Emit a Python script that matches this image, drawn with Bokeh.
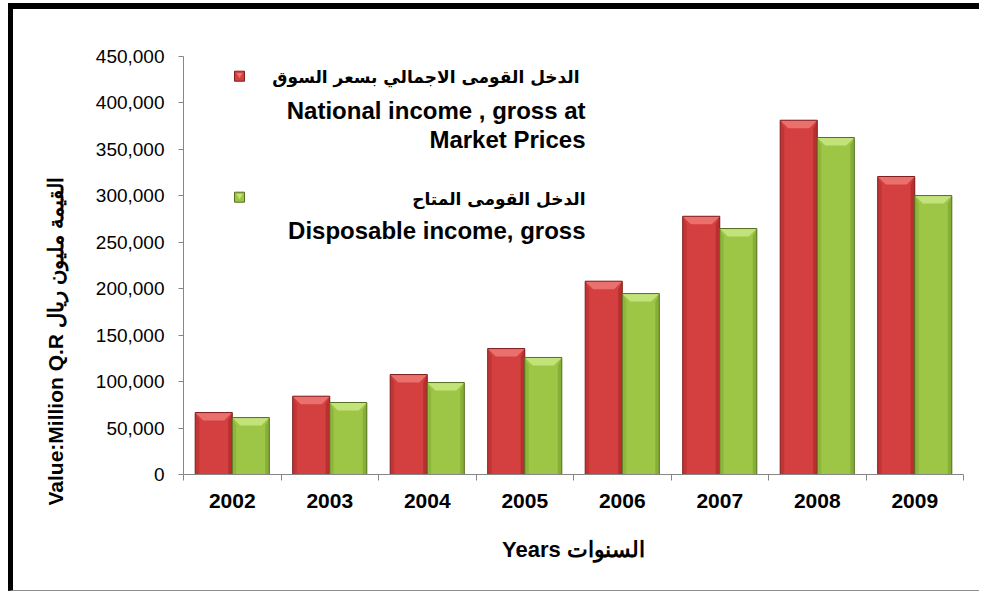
import numpy as np
from bokeh.plotting import figure
from bokeh.models import Range1d, FixedTicker, NumeralTickFormatter, Label, Title
from bokeh.embed import file_html
from bokeh.resources import INLINE

# ---------------- data ----------------
years = ["2002", "2003", "2004", "2005", "2006", "2007", "2008", "2009"]
national_income = [66700, 84300, 107600, 135600, 208100, 278000, 381400, 320800]
disposable_income = [61300, 77500, 99000, 126000, 194800, 264800, 362800, 300300]
y_ticks = [0, 50000, 100000, 150000, 200000, 250000, 300000, 350000, 400000, 450000]

legend_national = ["الدخل القومى الاجمالي  بسعر السوق", "National income , gross at", "Market Prices"]
legend_disposable = ["الدخل القومى المتاح", "Disposable income, gross"]
y_title = "Value:Million Q.R القيمة مليون ريال"
x_title = "Years السنوات"

# ---------------- styling ----------------
W, H = 971, 588          # canvas size; page offset 13,9 via CSS border/margin
RED, RED_TOP, RED_SIDE, RED_EDGE = "#D43F3F", "#EC7673", "#B52E2E", "#7E1F1F"
GRN, GRN_TOP, GRN_SIDE, GRN_EDGE = "#9DC646", "#C7E47F", "#84AC35", "#566F22"
AXIS_GREY = "#868686"
FONT = "Liberation Sans"
AR_FONT = "DejaVu Sans"

n = len(years)
x_max = float(n)
y_max = 450000.0
FW, FH = 780, 418        # frame size in px

p = figure(width=W, height=H, output_backend="svg", toolbar_location=None,
           x_range=Range1d(0, x_max), y_range=Range1d(0, y_max),
           min_border_left=170, min_border_right=W - 170 - FW,
           min_border_top=47, min_border_bottom=H - 47 - FH)
p.styles = {"margin-left": "8px", "margin-top": "3px",
            "border-left": "5px solid black", "border-top": "6px solid black",
            "border-bottom": "1px solid #8c8c8c"}
p.outline_line_color = None
p.xgrid.visible = False
p.ygrid.visible = False
p.background_fill_color = "white"
p.border_fill_color = "white"

px_x = x_max / FW
px_y = y_max / FH

centers = np.arange(n) + 0.5
bw = 0.38
off = 0.19


def draw_bars(xc, vals, fill, top, side, edge):
    p.vbar(x=xc, top=vals, width=bw, bottom=0, fill_color=fill, line_color=None)
    sx = 4 * px_x
    dx = 8 * px_x
    dy = 8 * px_y
    lx, ly, rx, ry, tx, ty = [], [], [], [], [], []
    for x, v in zip(xc, vals):
        x0, x1 = x - bw / 2, x + bw / 2
        lx.append([x0, x0 + sx, x0 + sx, x0])
        ly.append([0, 0, v - dy, v])
        rx.append([x1, x1 - sx, x1 - sx, x1])
        ry.append([0, 0, v - dy, v])
        tx.append([x0, x1, x1 - dx, x0 + dx])
        ty.append([v, v, v - dy, v - dy])
    p.patches(xs=lx, ys=ly, fill_color=side, line_color=None, fill_alpha=0.6)
    p.patches(xs=rx, ys=ry, fill_color=side, line_color=None, fill_alpha=0.9)
    p.patches(xs=tx, ys=ty, fill_color=top, line_color=None, fill_alpha=0.9)
    p.vbar(x=xc, top=vals, width=bw, bottom=0, fill_color=None, line_color=edge, line_width=1)


draw_bars(centers - off, national_income, RED, RED_TOP, RED_SIDE, RED_EDGE)
draw_bars(centers + off, disposable_income, GRN, GRN_TOP, GRN_SIDE, GRN_EDGE)

# ---------------- axes ----------------
yax = p.yaxis[0]
yax.ticker = FixedTicker(ticks=y_ticks)
yax.formatter = NumeralTickFormatter(format="0,0")
yax.axis_line_color = AXIS_GREY
yax.major_tick_line_color = AXIS_GREY
yax.major_tick_out = 5
yax.major_tick_in = 0
yax.minor_tick_line_color = None
yax.major_label_standoff = 14
yax.major_label_text_font = FONT
yax.major_label_text_font_size = "19px"
yax.major_label_text_color = "black"

xax = p.xaxis[0]
xax.ticker = FixedTicker(ticks=list(centers), minor_ticks=list(range(n + 1)))
xax.major_label_overrides = {float(c): y for c, y in zip(centers, years)}
xax.axis_line_color = AXIS_GREY
xax.major_tick_line_color = None
xax.major_tick_out = 0
xax.major_tick_in = 0
xax.minor_tick_line_color = AXIS_GREY
xax.minor_tick_out = 6
xax.minor_tick_in = 0
xax.major_label_standoff = 13
xax.major_label_text_font = FONT
xax.major_label_text_font_style = "bold"
xax.major_label_text_font_size = "21px"
xax.major_label_text_color = "black"
xax.axis_label = x_title
xax.axis_label_text_font = FONT
xax.axis_label_text_font_style = "bold"
xax.axis_label_text_font_size = "22px"
xax.axis_label_text_color = "black"
xax.axis_label_standoff = 26

# ---------------- y title ----------------
p.add_layout(Title(text=y_title, align="left", offset=-31, standoff=52,
                   text_font=FONT, text_font_style="bold", text_font_size="21px",
                   text_color="black"), "left")

# ---------------- legend ----------------
lx = (585 - 183) * px_x
leg_rows = [(legend_national[0], 76.7, True), (legend_national[1], 110.7, False),
            (legend_national[2], 139.7, False), (legend_disposable[0], 199, True),
            (legend_disposable[1], 230, False)]
for txt, py, is_ar in leg_rows:
    p.add_layout(Label(x=lx, y=(474.3 - py) * px_y, text=txt, text_align="right",
                       text_baseline="middle", text_font=AR_FONT if is_ar else FONT,
                       text_font_style="bold", text_font_size="17px" if is_ar else "24px",
                       text_color="black"))

mx = (239 - 183) * px_x
for py, fill, top, edge in [(76, RED, RED_TOP, RED_EDGE), (197, GRN, GRN_TOP, GRN_EDGE)]:
    my = (474.3 - py) * px_y
    p.scatter(x=[mx], y=[my], marker="square", size=10, fill_color=fill, line_color=edge)
    p.scatter(x=[mx], y=[my + 1.5 * px_y], marker="inverted_triangle", size=6,
              fill_color=top, line_color=None)

open("out.html", "w").write(file_html(p, INLINE))
